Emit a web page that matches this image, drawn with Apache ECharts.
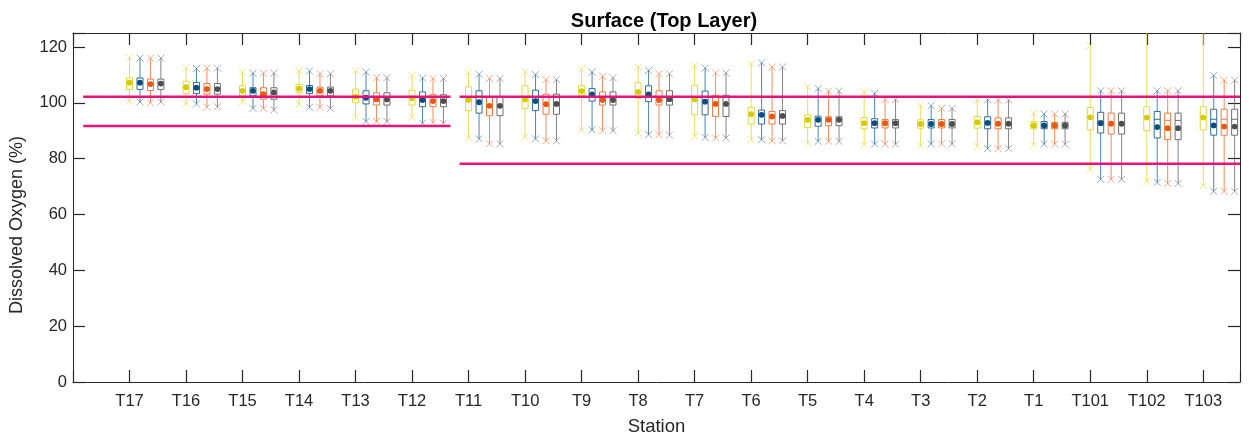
<!DOCTYPE html>
<html>
<head>
<meta charset="utf-8">
<script src="https://cdn.jsdelivr.net/npm/echarts@6/dist/echarts.min.js"></script>
<style>html,body{margin:0;padding:0;background:#fff}#chart{width:1250px;height:441px}</style>
</head>
<body>
<div id="chart"></div>
<script>
// ---------- data ----------
const stations = ['T17','T16','T15','T14','T13','T12','T11','T10','T9','T8','T7','T6','T5','T4','T3','T2','T1','T101','T102','T103'];
const yTicks = [0, 20, 40, 60, 80, 100, 120];
// each entry: [min, q1, median, q3, max, mean]
const seriesYellow = [
  [100.5,104.8,107.0,108.9,116.1,107.2],[99.6,103.3,105.5,107.7,112.4,105.6],[100.4,102.5,104.2,106.1,111.0,104.3],
  [99.6,103.6,105.0,106.6,111.4,105.1],[94.8,100.0,102.0,104.9,111.4,102.2],[94.8,99.2,101.3,104.5,109.8,101.6],
  [87.4,97.2,101.0,105.7,110.8,101.0],[87.8,98.0,101.2,106.1,111.0,101.2],[90.3,102.7,104.2,106.1,112.0,104.2],
  [89.2,101.6,103.9,107.2,112.8,103.9],[88.0,95.7,101.2,106.3,113.4,101.2],[86.8,92.4,95.9,98.4,114.0,95.9],
  [85.6,91.2,93.9,95.7,105.7,93.9],[85.0,90.7,92.7,94.7,103.9,92.7],[84.7,90.9,92.4,93.9,99.0,92.4],
  [84.5,90.9,93.0,95.1,101.0,93.0],[85.0,90.7,91.9,93.3,96.3,91.9],[76.2,90.3,94.8,98.3,120.5,94.8],
  [71.8,90.0,94.7,98.6,135.0,94.7],[70.3,90.3,94.7,98.6,135.0,94.7]
];
const seriesBlue = [
  [100.3,104.8,107.0,108.9,116.0,107.2],[99.6,103.3,105.5,107.3,112.3,105.4],[98.0,102.5,104.2,105.4,110.6,104.3],
  [98.4,103.3,104.8,106.2,111.4,104.9],[93.3,99.6,101.8,104.3,111.0,101.8],[92.7,98.6,101.0,103.9,108.9,101.0],
  [87.1,96.3,100.2,104.3,110.2,100.2],[87.1,97.2,100.6,104.5,110.1,100.6],[90.3,100.6,103.0,105.1,111.0,103.0],
  [88.6,100.4,103.0,106.1,111.6,103.0],[87.6,95.7,100.4,104.2,112.4,100.4],[86.8,92.4,95.7,97.4,114.3,95.7],
  [86.2,91.6,93.9,95.2,105.1,93.9],[85.2,91.0,92.7,94.3,103.4,92.7],[85.3,91.0,92.4,94.0,99.0,92.4],
  [83.6,90.7,92.8,95.0,101.1,92.8],[85.2,90.7,91.9,93.3,96.0,91.9],[72.6,89.2,93.5,96.6,104.3,92.7],
  [71.5,87.4,94.1,96.9,104.3,91.3],[68.3,88.4,94.1,97.7,109.8,91.9]
];
const seriesOrange = [
  [100.0,104.4,106.7,108.5,116.0,106.7],[98.4,103.1,104.9,106.9,112.4,104.9],[98.0,101.3,103.1,105.4,110.6,103.1],
  [98.4,102.5,104.3,105.6,110.4,104.3],[93.3,99.2,101.2,103.6,109.0,101.2],[92.9,98.6,100.6,102.9,108.7,100.6],
  [85.3,95.4,98.9,101.9,108.7,98.9],[86.4,95.9,99.5,103.1,108.3,99.5],[90.0,99.2,101.0,103.9,109.5,101.0],
  [88.6,99.2,101.0,104.3,110.4,101.0],[87.4,95.1,99.6,102.7,110.7,99.6],[86.4,92.4,95.1,96.9,112.8,95.1],
  [86.2,91.8,93.9,95.0,104.2,93.9],[85.2,91.0,92.7,94.0,101.2,92.7],[85.3,91.0,92.4,94.0,98.0,92.4],
  [83.6,90.7,92.5,94.6,101.0,92.5],[85.2,90.7,91.9,93.0,96.0,91.9],[72.6,88.8,93.0,96.3,104.3,92.5],
  [71.1,86.8,93.7,96.3,104.3,90.9],[68.3,88.4,94.1,97.7,108.1,91.5]
];
const seriesGrey = [
  [100.3,104.8,106.9,108.5,116.0,106.9],[98.6,103.1,104.9,106.9,112.4,104.9],[97.4,101.3,103.5,105.4,110.6,103.7],
  [98.0,102.5,104.3,105.6,110.4,104.3],[93.3,99.2,101.2,103.6,109.0,101.2],[92.7,98.6,100.6,102.9,108.7,100.6],
  [85.3,95.4,98.9,101.9,108.7,98.9],[86.4,95.9,99.6,103.1,108.3,99.6],[90.0,99.2,101.0,103.9,109.0,101.0],
  [88.4,99.2,101.3,104.3,110.4,101.3],[87.4,95.1,99.6,102.7,110.7,99.6],[86.4,92.4,95.3,97.2,112.8,95.3],
  [86.2,91.8,93.9,95.0,104.2,93.9],[85.2,91.0,92.7,94.0,101.2,92.7],[85.3,91.0,92.4,94.0,98.0,92.4],
  [83.6,90.7,92.5,94.6,101.0,92.5],[85.2,90.7,91.9,93.0,96.0,91.9],[72.6,88.8,93.0,96.3,104.3,92.5],
  [71.1,86.8,93.7,96.3,104.3,90.9],[68.3,88.4,94.1,97.7,108.1,91.5]
];
// threshold segments: [x start, x end, value] in axis units
const thresholds = [
  [0.18, 6.68, 102.2], [0.18, 6.68, 91.7],
  [6.84, 20.65, 102.2], [6.84, 20.65, 78.2]
];

// ---------- chart ----------
const groups = [
  {data: seriesYellow, line: '#E2D83C', dot: '#D6CB00', mark: 'rgba(226,216,60,0.6)'},
  {data: seriesBlue,   line: '#2E6E9C', dot: '#0B4E7C', mark: 'rgba(46,110,156,0.55)'},
  {data: seriesOrange, line: '#F0783F', dot: '#E8560F', mark: 'rgba(240,120,63,0.6)'},
  {data: seriesGrey,   line: '#6E6E6E', dot: '#4E4E4E', mark: 'rgba(110,110,110,0.55)'}
];
const OFFSET = 0.185;
const AXC = '#262626';
const FONT = 'Liberation Sans, Arial, Helvetica, sans-serif';

function makeRender(g) {
  return function (params, api) {
    const x = api.value(0);
    const px = api.coord([x, 0])[0];
    const y = i => api.coord([x, api.value(i)])[1];
    const yMin = y(1), yQ1 = y(2), yMed = y(3), yQ3 = y(4), yMax = y(5), yMean = y(6);
    const hw = 3, mk = 3.5;
    const xMark = (cy) => [
      {type: 'line', shape: {x1: px - mk, y1: cy - mk, x2: px + mk, y2: cy + mk}, style: {stroke: g.mark, lineWidth: 1}},
      {type: 'line', shape: {x1: px - mk, y1: cy + mk, x2: px + mk, y2: cy - mk}, style: {stroke: g.mark, lineWidth: 1}}
    ];
    return {
      type: 'group',
      children: [
        {type: 'line', shape: {x1: px, y1: yQ3, x2: px, y2: yMax}, style: {stroke: g.line, lineWidth: 1, opacity: 0.85}},
        {type: 'line', shape: {x1: px, y1: yQ1, x2: px, y2: yMin}, style: {stroke: g.line, lineWidth: 1, opacity: 0.85}},
        ...xMark(yMax), ...xMark(yMin),
        {type: 'rect', shape: {x: px - hw, y: yQ3, width: 2 * hw, height: yQ1 - yQ3}, style: {fill: '#fff', stroke: g.line, lineWidth: 1}},
        {type: 'line', shape: {x1: px - hw, y1: yMed, x2: px + hw, y2: yMed}, style: {stroke: g.line, lineWidth: 1}},
        {type: 'circle', shape: {cx: px, cy: yMean, r: 2.9}, style: {fill: g.dot}}
      ]
    };
  };
}

const customSeries = groups.map((g, k) => ({
  type: 'custom',
  xAxisIndex: 0, yAxisIndex: 0,
  clip: true,
  silent: true,
  dimensions: ['x', 'min', 'q1', 'med', 'q3', 'max', 'mean'],
  encode: {x: 0, y: [1, 2, 3, 4, 5]},
  renderItem: makeRender(g),
  data: g.data.map((d, i) => [i + 1 + k * OFFSET, ...d]),
  z: 3
}));

const lineSeries = thresholds.map(t => ({
  type: 'line',
  xAxisIndex: 0, yAxisIndex: 0,
  data: [[t[0], t[2]], [t[1], t[2]]],
  symbol: 'none',
  silent: true,
  lineStyle: {color: '#E3157A', width: 2.5},
  z: 5
}));

const xLabel = v => {
  const i = Math.round(v);
  return (Math.abs(v - i) < 1e-6 && i >= 1 && i <= stations.length) ? stations[i - 1] : '';
};
const yLabel = v => yTicks.indexOf(v) >= 0 ? String(v) : '';

const baseX = {
  type: 'value', min: 0, max: 20.65, interval: 1,
  splitLine: {show: false},
  axisLine: {show: true, onZero: false, lineStyle: {color: AXC, width: 1}},
  axisTick: {show: true, inside: true, length: 12, lineStyle: {color: AXC, width: 1.2}}
};
const baseY = {
  type: 'value', min: 0, max: 125, interval: 20,
  splitLine: {show: false},
  axisLine: {show: true, onZero: false, lineStyle: {color: AXC, width: 1}},
  axisTick: {show: true, inside: true, length: 12, lineStyle: {color: AXC, width: 1.2}}
};

const chart = echarts.init(document.getElementById('chart'), null, {renderer: 'canvas'});
chart.setOption({
  animation: false,
  backgroundColor: '#fff',
  grid: {left: 73, right: 10, top: 33, bottom: 54, containLabel: false},
  title: {
    text: 'Surface (Top Layer)', left: 659, top: 6, textAlign: 'center',
    textStyle: {fontFamily: FONT, fontSize: 20, fontWeight: 'bold', color: '#000'}
  },
  xAxis: [
    Object.assign({}, baseX, {
      position: 'bottom',
      name: 'Station', nameLocation: 'middle', nameGap: 35,
      nameTextStyle: {fontFamily: FONT, fontSize: 18.5, color: AXC},
      axisLabel: {formatter: xLabel, fontFamily: FONT, fontSize: 16.5, color: AXC, margin: 11, hideOverlap: false}
    }),
    Object.assign({}, baseX, {position: 'top', axisLabel: {show: false}})
  ],
  yAxis: [
    Object.assign({}, baseY, {
      position: 'left',
      axisLabel: {formatter: yLabel, fontFamily: FONT, fontSize: 16.5, color: AXC, margin: 6}
    }),
    Object.assign({}, baseY, {position: 'right', axisLabel: {show: false}})
  ],
  graphic: [{
    type: 'text', left: 8, top: 136, rotation: Math.PI / 2,
    style: {text: 'Dissolved Oxygen (%)', fontFamily: FONT, fontSize: 18, fill: AXC}
  }],
  series: [...lineSeries, ...customSeries]
});
</script>
</body>
</html>
